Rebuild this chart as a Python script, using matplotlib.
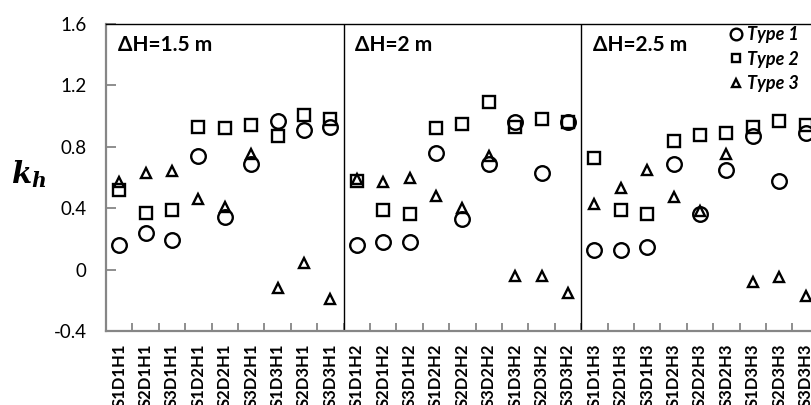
import matplotlib.pyplot as plt

# categories (x tick labels)
cases = ['S1D1H1', 'S2D1H1', 'S3D1H1', 'S1D2H1', 'S2D2H1', 'S3D2H1', 'S1D3H1', 'S2D3H1', 'S3D3H1',
         'S1D1H2', 'S2D1H2', 'S3D1H2', 'S1D2H2', 'S2D2H2', 'S3D2H2', 'S1D3H2', 'S2D3H2', 'S3D3H2',
         'S1D1H3', 'S2D1H3', 'S3D1H3', 'S1D2H3', 'S2D2H3', 'S3D2H3', 'S1D3H3', 'S2D3H3', 'S3D3H3']

type1 = [0.16, 0.24, 0.19, 0.74, 0.34, 0.69, 0.97, 0.91, 0.93,
         0.16, 0.18, 0.18, 0.76, 0.33, 0.69, 0.96, 0.63, 0.96,
         0.13, 0.13, 0.15, 0.69, 0.36, 0.65, 0.87, 0.58, 0.89]
type2 = [0.52, 0.37, 0.39, 0.93, 0.92, 0.94, 0.87, 1.01, 0.98,
         0.58, 0.39, 0.36, 0.92, 0.95, 1.09, 0.93, 0.98, 0.96,
         0.73, 0.39, 0.36, 0.84, 0.88, 0.89, 0.93, 0.97, 0.94]
type3 = [0.57, 0.63, 0.64, 0.46, 0.41, 0.75, -0.12, 0.04, -0.19,
         0.59, 0.57, 0.60, 0.48, 0.40, 0.74, -0.04, -0.04, -0.15,
         0.43, 0.53, 0.65, 0.47, 0.38, 0.75, -0.08, -0.05, -0.17]

heads = ['\u0394H=1.5 m', '\u0394H=2 m', '\u0394H=2.5 m']
yticks = [-0.4, 0, 0.4, 0.8, 1.2, 1.6]
ytick_labels = ['-0.4', '0', '0.4', '0.8', '1.2', '1.6']

plt.rcParams['font.family'] = ['Lato', 'DejaVu Sans']
plt.rcParams['mathtext.fontset'] = 'dejavuserif'

fig = plt.figure(figsize=(8.12, 4.05), dpi=100)
ax = fig.add_axes([0.1305, 0.1827, 0.878, 0.758])

x = list(range(len(cases)))
common = dict(linestyle='none', markerfacecolor='none', markeredgecolor='black', markeredgewidth=1.7)
ax.plot(x, type1, marker='o', markersize=10.5, label='Type 1', **common)
ax.plot(x, type2, marker='s', markersize=8, label='Type 2', **common)
ax.plot(x, type3, marker='^', markersize=7.5, label='Type 3', **common)

ax.set_xlim(-0.5, len(cases) - 0.5)
ax.set_ylim(-0.4, 1.6)

# group dividers
for b in [8.5, 17.5]:
    ax.axvline(b, color='black', linewidth=1.0)

# group titles
for i, h in enumerate(heads):
    ax.text(-0.05 + 9 * i, 1.463, h, fontsize=15, fontweight='bold', va='center', ha='left')

ax.set_xticks(x)
ax.set_xticklabels(cases, rotation=90, fontsize=12, fontweight='bold', va='top')
ax.set_xticks([i + 0.5 for i in range(len(cases) - 1)], minor=True)
ax.tick_params(axis='x', which='major', length=0, pad=9)
ax.tick_params(axis='x', which='minor', direction='in', length=6, color='#868686', width=1.3)

ax.set_yticks(yticks)
ax.set_yticklabels(ytick_labels, fontsize=13.5)
ax.tick_params(axis='y', direction='in', length=7, color='#868686', width=1.3, pad=14)

for s in ['left', 'bottom']:
    ax.spines[s].set_color('#868686')
    ax.spines[s].set_linewidth(1.6)
ax.spines['top'].set_color('black')
ax.spines['top'].set_linewidth(1.0)
ax.spines['right'].set_visible(False)

fig.text(0.035, 0.57, r'$\mathbfit{k}_{\mathbfit{h}}$', fontsize=21, ha='center', va='center')

ax.legend(loc='upper left', bbox_to_anchor=(730 / 812, 1 - 26 / 405), bbox_transform=fig.transFigure,
          frameon=False, handletextpad=0.25, labelspacing=0.42, borderpad=0, borderaxespad=0,
          handlelength=0.7, markerscale=0.8,
          prop=dict(size=13, weight='bold', style='italic'))

plt.savefig('out.png', dpi=100)
